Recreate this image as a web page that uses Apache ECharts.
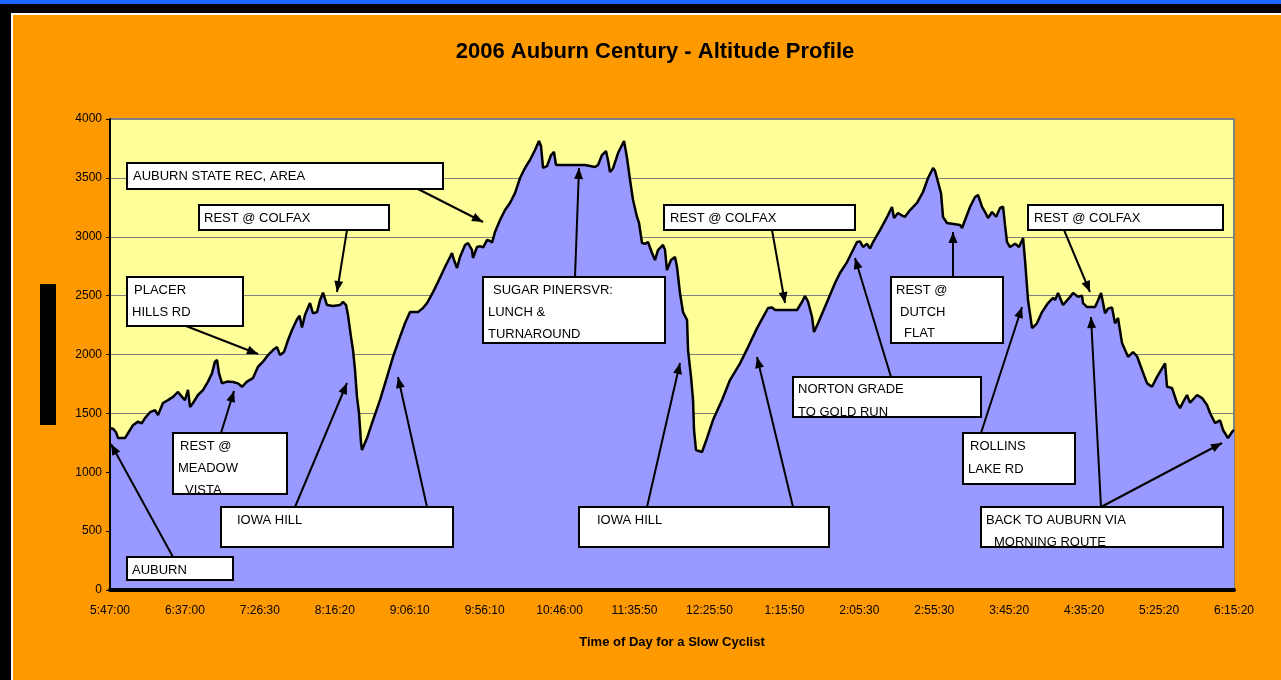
<!DOCTYPE html>
<html>
<head>
<meta charset="utf-8">
<title>2006 Auburn Century - Altitude Profile</title>
<script src="https://cdn.jsdelivr.net/npm/echarts@6/dist/echarts.min.js"></script>
<style>
  html, body { margin: 0; padding: 0; background: #FF9900; }
  #chart { width: 1281px; height: 680px; }
</style>
</head>
<body>
<div id="chart"></div>
<script>
// time-of-day tick labels (one per axis step)
const timeLabels = ['5:47:00', '6:37:00', '7:26:30', '8:16:20', '9:06:10', '9:56:10', '10:46:00', '11:35:50',
  '12:25:50', '1:15:50', '2:05:30', '2:55:30', '3:45:20', '4:35:20', '5:25:20', '6:15:20']

// position along the ride, in tick steps from the 5:47:00 start
const timePos = [
  0, 0.04, 0.08, 0.107, 0.2, 0.267, 0.307, 0.374, 0.423, 0.467, 0.534, 0.601, 0.641, 0.707, 0.774, 0.841, 0.908, 0.961, 1.0,
  1.041, 1.068, 1.108, 1.174, 1.241, 1.308, 1.361, 1.401, 1.428, 1.455, 1.495, 1.561, 1.642, 1.708, 1.762, 1.828, 1.908,
  1.975, 2.042, 2.109, 2.175, 2.229, 2.269, 2.322, 2.376, 2.429, 2.496, 2.53, 2.562, 2.602, 2.669, 2.709, 2.763, 2.803,
  2.843, 2.869, 2.896, 2.976, 3.069, 3.110, 3.150, 3.176, 3.216, 3.243, 3.270, 3.296, 3.323, 3.350, 3.363, 3.430, 3.510,
  3.603, 3.697, 3.777, 3.870, 3.937, 4.004, 4.110, 4.177, 4.231, 4.311, 4.377, 4.471, 4.538, 4.564, 4.591, 4.631, 4.671,
  4.738, 4.778, 4.831, 4.844, 4.898, 4.938, 4.98, 5.031, 5.071, 5.098, 5.138, 5.205, 5.272, 5.338, 5.405, 5.472, 5.538,
  5.605, 5.672, 5.725, 5.752, 5.779, 5.832, 5.886, 5.925, 5.952, 6.139, 6.339, 6.473, 6.513, 6.566, 6.619, 6.646, 6.673,
  6.713, 6.780, 6.860, 6.900, 6.940, 6.980, 7.033, 7.060, 7.100, 7.140, 7.180, 7.233, 7.273, 7.313, 7.380, 7.406, 7.433,
  7.487, 7.540, 7.567, 7.607, 7.647, 7.701, 7.714, 7.754, 7.781, 7.794, 7.820, 7.901, 7.967, 8.047, 8.168, 8.274, 8.408,
  8.515, 8.635, 8.715, 8.782, 8.835, 8.875, 9.169, 9.235, 9.275, 9.315, 9.369, 9.395, 9.449, 9.569, 9.676, 9.742, 9.836,
  9.916, 9.969, 10.009, 10.050, 10.103, 10.143, 10.183, 10.276, 10.370, 10.436, 10.463, 10.516, 10.570, 10.610, 10.677,
  10.770, 10.850, 10.917, 10.984, 11.010, 11.050, 11.090, 11.117, 11.170, 11.344, 11.371, 11.411, 11.477, 11.544, 11.584,
  11.638, 11.678, 11.718, 11.771, 11.825, 11.878, 11.918, 11.944, 11.971, 12.011, 12.078, 12.131, 12.185, 12.211, 12.251,
  12.305, 12.371, 12.438, 12.518, 12.585, 12.612, 12.652, 12.718, 12.772, 12.812, 12.852, 12.919, 12.972, 12.985, 13.039,
  13.146, 13.186, 13.226, 13.252, 13.279, 13.319, 13.372, 13.412, 13.452, 13.506, 13.546, 13.586, 13.653, 13.706, 13.773,
  13.840, 13.906, 13.973, 14.040, 14.080, 14.106, 14.173, 14.240, 14.280, 14.320, 14.373, 14.413, 14.507, 14.574, 14.640,
  14.680, 14.747, 14.814, 14.854, 14.920, 14.974, 15
]

// altitude in feet
const altitude = [
  1373, 1370, 1340, 1290, 1290, 1359, 1400, 1430, 1415, 1460, 1510, 1528, 1486, 1588, 1613, 1640, 1682, 1640, 1613,
  1700, 1554, 1588, 1656, 1698, 1770, 1840, 1939, 1953, 1840, 1755, 1770, 1766, 1755, 1726, 1770, 1800,
  1896, 1939, 1995, 2038, 2063, 1995, 2021, 2123, 2208, 2300, 2330, 2230, 2335, 2437, 2350, 2360, 2463,
  2525, 2530, 2420, 2412, 2420, 2446, 2420, 2335, 2150, 2038, 1868, 1640, 1503, 1248, 1189, 1290, 1443,
  1613, 1810, 1980, 2150, 2265, 2360, 2360, 2395, 2437, 2530, 2616, 2743, 2828, 2862, 2802, 2735, 2828,
  2930, 2947, 2887, 2820, 2913, 2920, 2910, 2972, 2965, 2950, 3040, 3142, 3227, 3287, 3371, 3499, 3584,
  3652, 3737, 3813, 3770, 3584, 3600, 3694, 3720, 3610, 3610, 3610, 3592, 3610, 3694, 3728, 3650, 3550,
  3580, 3711, 3813, 3669, 3482, 3312, 3168, 3117, 2947, 2940, 2955, 2862, 2802, 2887, 2930, 2890, 2717,
  2802, 2828, 2743, 2520, 2360, 2293, 2038, 1810, 1613, 1359, 1189, 1172, 1290, 1443, 1613, 1783, 1925,
  2063, 2224, 2318, 2395, 2400, 2378, 2378, 2446, 2497, 2450, 2318, 2191, 2265, 2446, 2607, 2692, 2785,
  2887, 2955, 2960, 2913, 2940, 2900, 2955, 3057, 3168, 3253, 3159, 3202, 3180, 3170, 3227,
  3287, 3380, 3499, 3584, 3560, 3465, 3371, 3168, 3117, 3100, 3074, 3142, 3253, 3338, 3355,
  3253, 3210, 3159, 3210, 3170, 3244, 3255, 3100, 2955, 2913, 2940, 2913, 2990, 2802, 2463,
  2224, 2265, 2360, 2437, 2480, 2463, 2522, 2420, 2460, 2488, 2522, 2490, 2500, 2437, 2403,
  2403, 2460, 2522, 2440, 2350, 2390, 2400, 2265, 2310, 2097, 2038, 1980, 2021, 1985, 1868,
  1755, 1726, 1810, 1883, 1925, 1726, 1715, 1588, 1545, 1596, 1656, 1590, 1656, 1630, 1571,
  1503, 1418, 1440, 1359, 1290, 1342, 1359
]

// y axis
const altMin = 0
const altMax = 4000
const altStep = 500

// callout boxes: box [x, y, w, h], text lines [text, dx, dy], arrows [x1, y1, x2, y2]
const notes = [
  { box: [127, 163, 316, 26], lines: [['AUBURN STATE REC, AREA', 6, 13]], arrows: [[418, 189, 483, 222]] },
  { box: [199, 205, 190, 25], lines: [['REST @ COLFAX', 5, 13]], arrows: [[347, 230, 337, 292]] },
  { box: [127, 277, 116, 49], lines: [['PLACER', 7, 13], ['HILLS RD', 5, 35]], arrows: [[186, 326, 258, 354]] },
  { box: [173, 433, 114, 61], lines: [['REST @', 7, 13], ['MEADOW', 5, 35], ['VISTA', 12, 57]], arrows: [[221, 433, 234, 391]] },
  { box: [127, 557, 106, 23], lines: [['AUBURN', 5, 13]], arrows: [[173, 557, 111, 444]] },
  { box: [221, 507, 232, 40], lines: [['IOWA HILL', 16, 13]], arrows: [[295, 507, 347, 383], [427, 507, 398, 377]] },
  { box: [483, 277, 182, 66], lines: [['SUGAR PINERSVR:', 10, 13], ['LUNCH &', 5, 35], ['TURNAROUND', 5, 57]], arrows: [[575, 277, 579, 168]] },
  { box: [579, 507, 250, 40], lines: [['IOWA HILL', 18, 13]], arrows: [[647, 507, 680, 363], [793, 507, 757, 357]] },
  { box: [664, 205, 191, 25], lines: [['REST @ COLFAX', 6, 13]], arrows: [[772, 230, 785, 303]] },
  { box: [793, 377, 188, 40], lines: [['NORTON GRADE', 5, 12], ['TO GOLD RUN', 5, 35]], arrows: [[891, 377, 855, 258]] },
  { box: [891, 277, 112, 66], lines: [['REST @', 5, 13], ['DUTCH', 9, 35], ['FLAT', 13, 56]], arrows: [[953, 277, 953, 232]] },
  { box: [963, 433, 112, 51], lines: [['ROLLINS', 7, 13], ['LAKE RD', 5, 36]], arrows: [[981, 433, 1022, 307]] },
  { box: [1028, 205, 195, 25], lines: [['REST @ COLFAX', 6, 13]], arrows: [[1064, 230, 1090, 292]] },
  { box: [981, 507, 242, 40], lines: [['BACK TO AUBURN VIA', 5, 13], ['MORNING ROUTE', 13, 35]], arrows: [[1101, 507, 1091, 317], [1101, 507, 1222, 443]] }
]

const font = "'Liberation Sans', Arial, sans-serif"

function arrowHead(x1, y1, x2, y2) {
  const a = Math.atan2(y2 - y1, x2 - x1)
  const len = 11, half = 4.5
  const bx = x2 - len * Math.cos(a), by = y2 - len * Math.sin(a)
  return [[x2, y2], [bx + half * Math.sin(a), by - half * Math.cos(a)], [bx - half * Math.sin(a), by + half * Math.cos(a)]]
}

const graphics = [
  // page frame
  { type: 'rect', shape: { x: 0, y: 0, width: 1281, height: 4 }, style: { fill: '#1A66FF' } },
  { type: 'rect', shape: { x: 0, y: 4, width: 1281, height: 9 }, style: { fill: '#000' } },
  { type: 'rect', shape: { x: 0, y: 4, width: 11, height: 676 }, style: { fill: '#000' } },
  { type: 'rect', shape: { x: 11, y: 13, width: 1270, height: 2 }, style: { fill: '#fff' } },
  { type: 'rect', shape: { x: 11, y: 13, width: 2, height: 667 }, style: { fill: '#fff' } },
  // black block where the y axis title sits
  { type: 'rect', shape: { x: 40, y: 284, width: 16, height: 141 }, style: { fill: '#000' } }
]

notes.forEach(n => {
  const [bx, by, bw, bh] = n.box
  n.arrows.forEach(a => {
    graphics.push({ type: 'line', z: 100, shape: { x1: a[0], y1: a[1], x2: a[2], y2: a[3] }, style: { stroke: '#000', lineWidth: 2 } })
    graphics.push({ type: 'polygon', z: 100, shape: { points: arrowHead(a[0], a[1], a[2], a[3]) }, style: { fill: '#000' } })
  })
  graphics.push({ type: 'rect', z: 101, shape: { x: bx, y: by, width: bw, height: bh }, style: { fill: '#fff' } })
  n.lines.forEach(l => {
    graphics.push({
      type: 'text', z: 102, x: bx + l[1], y: by + l[2],
      style: { text: l[0], fill: '#000', font: '13px ' + font, textVerticalAlign: 'middle' }
    })
  })
  graphics.push({ type: 'rect', z: 103, shape: { x: bx, y: by, width: bw, height: bh }, style: { fill: 'none', stroke: '#000', lineWidth: 2 } })
})

const chart = echarts.init(document.getElementById('chart'))
chart.setOption({
  animation: false,
  backgroundColor: '#FF9900',
  textStyle: { fontFamily: font },
  title: {
    text: '2006 Auburn Century - Altitude Profile',
    left: 650,
    top: 36,
    textAlign: 'center',
    textStyle: { fontSize: 22, fontWeight: 'bold', color: '#000', fontFamily: font }
  },
  grid: {
    left: 110, top: 119, right: 47, bottom: 90,
    show: true, backgroundColor: '#FFFF99', borderColor: '#808080', borderWidth: 2
  },
  xAxis: {
    type: 'value',
    min: 0,
    max: timeLabels.length - 1,
    interval: 1,
    z: 5,
    name: 'Time of Day for a Slow Cyclist',
    nameLocation: 'middle',
    nameGap: 46,
    nameTextStyle: { fontSize: 13, fontWeight: 'bold', color: '#000' },
    axisLine: { onZero: false, lineStyle: { color: '#000', width: 4 } },
    axisTick: { show: false },
    splitLine: { show: false },
    axisLabel: { fontSize: 12, color: '#000', margin: 15, formatter: v => timeLabels[v] }
  },
  yAxis: [{
    type: 'value',
    min: altMin,
    max: altMax,
    interval: altStep,
    axisLine: { show: false },
    axisTick: { show: true, length: 4, lineStyle: { color: '#000' } },
    axisLabel: { fontSize: 12, color: '#000', margin: 8, formatter: v => String(v) },
    splitLine: { lineStyle: { color: '#808080', width: 1 } }
  }, {
    type: 'value',
    position: 'left',
    min: altMin,
    max: altMax,
    interval: altStep,
    z: 5,
    axisLine: { show: true, lineStyle: { color: '#000', width: 2 } },
    axisTick: { show: false },
    axisLabel: { show: false },
    splitLine: { show: false }
  }],
  series: [{
    type: 'line',
    data: timePos.map((t, i) => [t, altitude[i]]),
    showSymbol: false,
    lineStyle: { color: '#000', width: 2.5 },
    areaStyle: { color: '#9999FF', opacity: 1 }
  }],
  graphic: graphics
})
</script>
</body>
</html>
